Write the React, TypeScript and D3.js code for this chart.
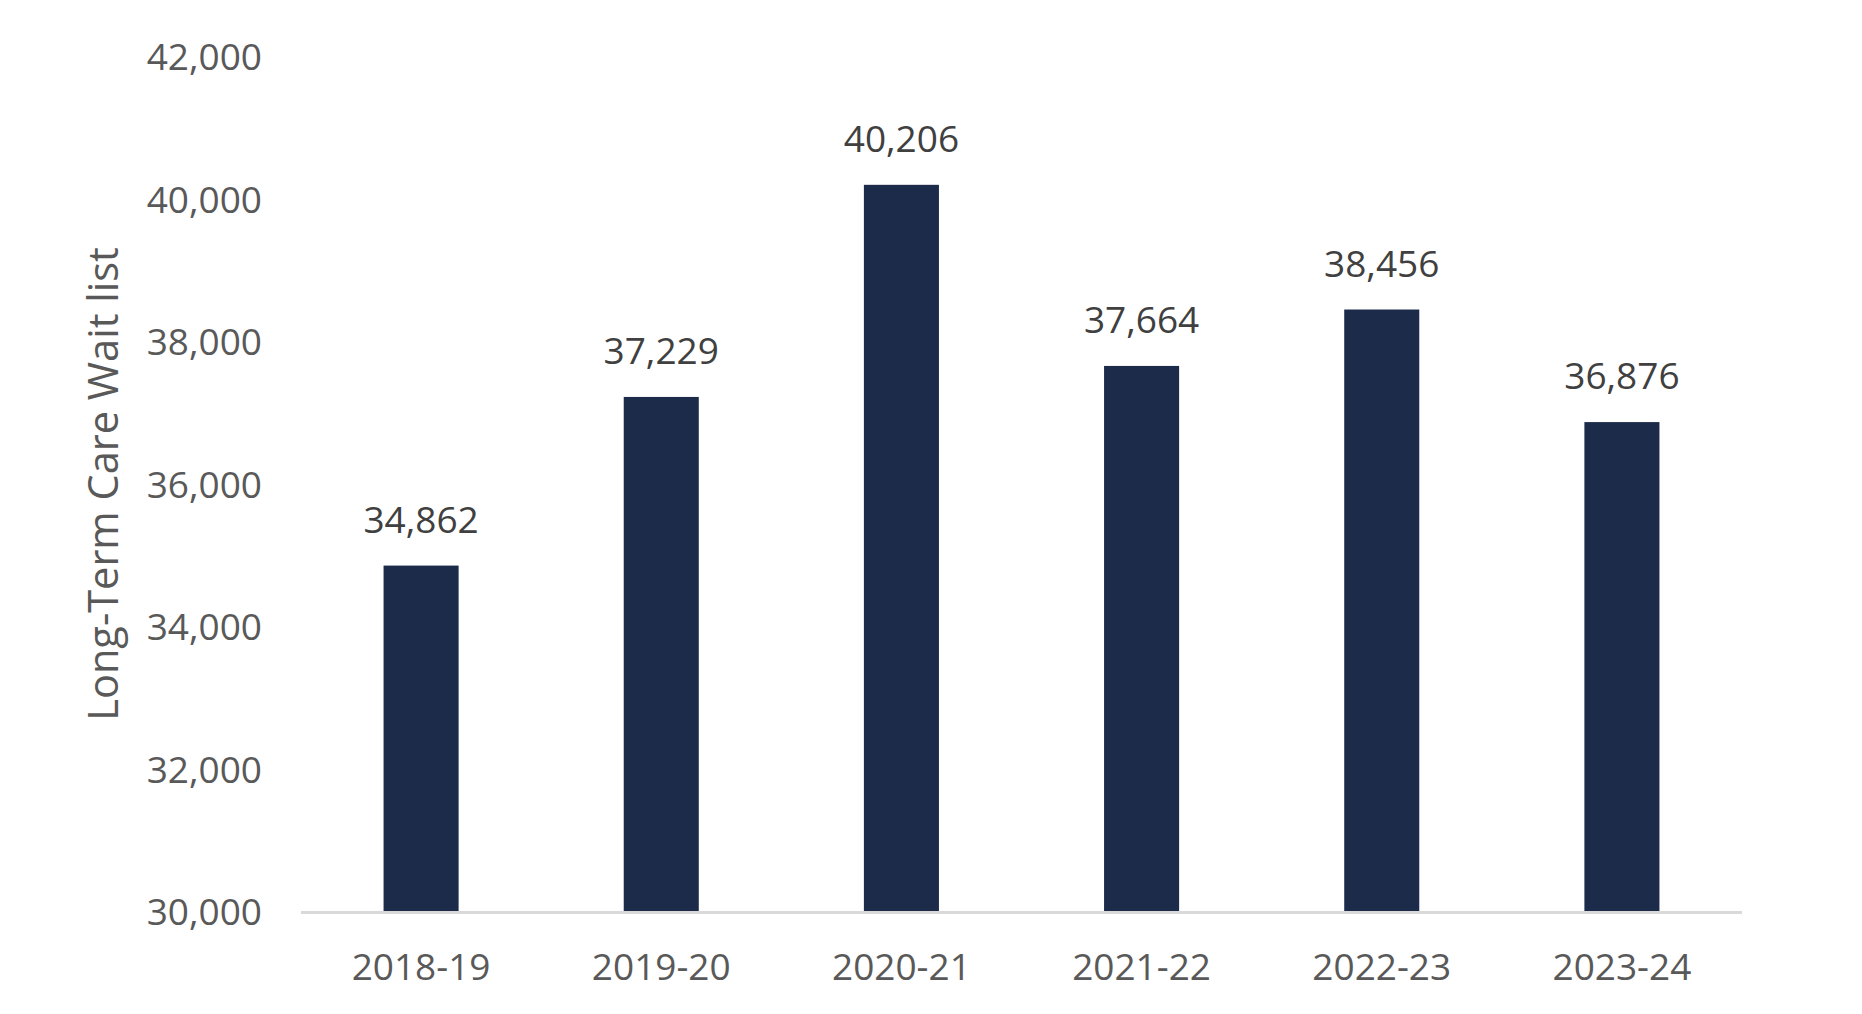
import React from "react";
import * as d3 from "d3";

const categories = ["2018-19", "2019-20", "2020-21", "2021-22", "2022-23", "2023-24"];
const values = [34862, 37229, 40206, 37664, 38456, 36876];
const yTicks = [30000, 32000, 34000, 36000, 38000, 40000, 42000];
const yTitle = "Long-Term Care Wait list";

const W = 1862;
const H = 1014;
const FONT = "'Open Sans', sans-serif";

export default function App() {
  const x = d3.scaleBand<string>().domain(categories).range([301, 1742]).paddingInner(0.6875).paddingOuter(0.34375);
  const y = d3.scaleLinear().domain([30000, 42000]).range([912, 57]);
  const fmt = d3.format(",");

  return (
    <div style={{ position: "absolute", left: 0, top: 0 }}>
      <svg width={W} height={H} style={{ display: "block", background: "#fff" }}>
        {values.map((v, i) => (
          <rect
            key={categories[i]}
            x={x(categories[i])}
            y={y(v)}
            width={x.bandwidth()}
            height={y(30000) - y(v)}
            fill="#1d2b4a"
          />
        ))}
        <line x1={301} x2={1742} y1={y(30000) + 0.5} y2={y(30000) + 0.5} stroke="#d9d9d9" strokeWidth={3} />
        {yTicks.map((t) => (
          <text
            key={t}
            x={262}
            y={y(t)}
            dy="0.36em"
            textAnchor="end"
            fontFamily={FONT}
            fontSize={37}
            fill="#595959"
          >
            {fmt(t)}
          </text>
        ))}
        {categories.map((c) => (
          <text
            key={c}
            x={(x(c) as number) + x.bandwidth() / 2}
            y={980}
            textAnchor="middle"
            fontFamily={FONT}
            fontSize={37}
            fill="#595959"
          >
            {c}
          </text>
        ))}
        {values.map((v, i) => (
          <text
            key={"l" + i}
            x={(x(categories[i]) as number) + x.bandwidth() / 2}
            y={y(v) - 33}
            textAnchor="middle"
            fontFamily={FONT}
            fontSize={37}
            fill="#404040"
          >
            {fmt(v)}
          </text>
        ))}
        <text
          transform="translate(118,484) rotate(-90)"
          textAnchor="middle"
          fontFamily={FONT}
          fontSize={41.5}
          fill="#595959"
        >
          {yTitle}
        </text>
      </svg>
    </div>
  );
}
